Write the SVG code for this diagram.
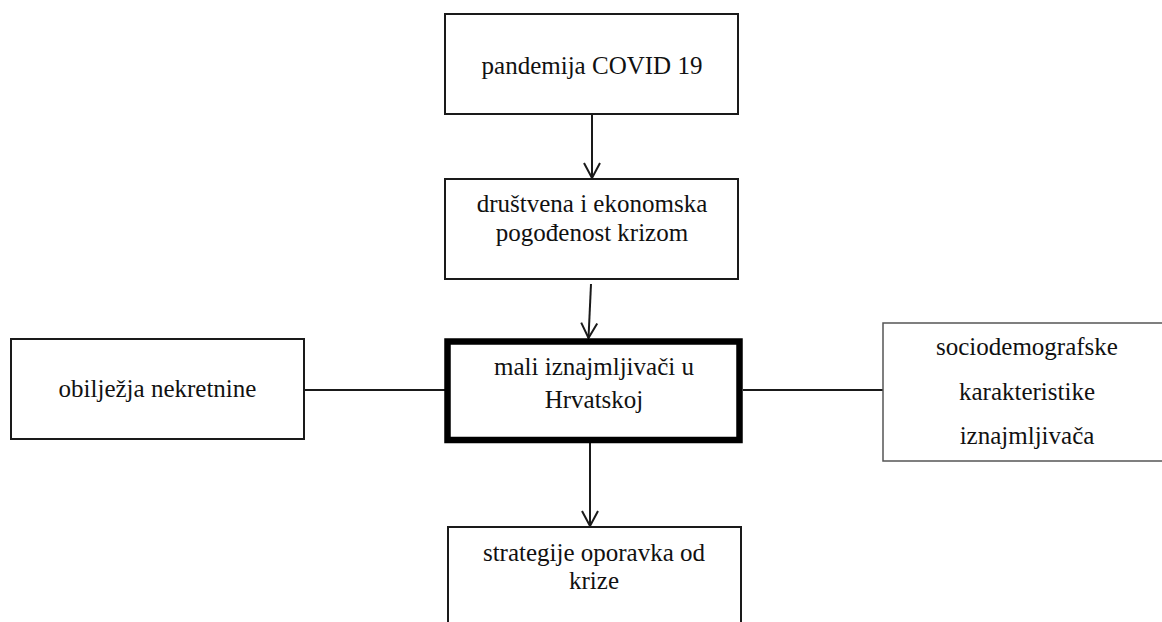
<svg xmlns="http://www.w3.org/2000/svg" width="1162" height="622" viewBox="0 0 1162 622">
<defs>
<style>
.box{fill:#fff;stroke:#1a1a1a;stroke-width:2}
.thick{fill:#fff;stroke:#000;stroke-width:6.5}
.thin{fill:#fff;stroke:#555;stroke-width:1.5}
.t{font-size:25px;fill:#111;text-anchor:middle}
.c{fill:none;stroke:#1a1a1a;stroke-width:2}
</style>
<marker id="arr" markerUnits="userSpaceOnUse" viewBox="-17 -10 19 20" markerWidth="19" markerHeight="20" refX="0" refY="0" orient="auto">
<path d="M-15,-8 L0,0 L-15,8" fill="none" stroke="#1a1a1a" stroke-width="2"/>
</marker>
</defs>
<rect width="1162" height="622" fill="#fff"/>
<g id="connectors">
<line class="c" x1="592" y1="114" x2="592" y2="178" marker-end="url(#arr)"/>
<line class="c" x1="591" y1="284" x2="588.5" y2="338" marker-end="url(#arr)"/>
<line class="c" x1="590" y1="443" x2="590" y2="526" marker-end="url(#arr)"/>
<line class="c" x1="304" y1="390" x2="445" y2="390"/>
<line class="c" x1="743" y1="390" x2="883" y2="390"/>
</g>
<g font-family="Liberation Serif, DejaVu Serif, serif">
<g id="n1">
<rect class="box" x="445" y="14" width="293" height="100"/>
<text class="t" x="592" y="74">pandemija COVID 19</text>
</g>
<g id="n2">
<rect class="box" x="445" y="179" width="293" height="100"/>
<text class="t" x="592" y="212">društvena i ekonomska</text>
<text class="t" x="592" y="241">pogođenost krizom</text>
</g>
<g id="n3">
<rect class="thick" x="447.5" y="341.5" width="292" height="98.5"/>
<text class="t" x="594" y="375">mali iznajmljivači u</text>
<text class="t" x="594" y="408">Hrvatskoj</text>
</g>
<g id="n4">
<rect class="box" x="11" y="339" width="293" height="100"/>
<text class="t" x="157.5" y="397">obilježja nekretnine</text>
</g>
<g id="n5">
<rect class="thin" x="883" y="323" width="300" height="138"/>
<text class="t" x="1027" y="355">sociodemografske</text>
<text class="t" x="1027" y="400">karakteristike</text>
<text class="t" x="1027" y="444">iznajmljivača</text>
</g>
<g id="n6">
<rect class="box" x="448" y="527" width="293" height="130"/>
<text class="t" x="594" y="561">strategije oporavka od</text>
<text class="t" x="594" y="589">krize</text>
</g>
</g>
</svg>
